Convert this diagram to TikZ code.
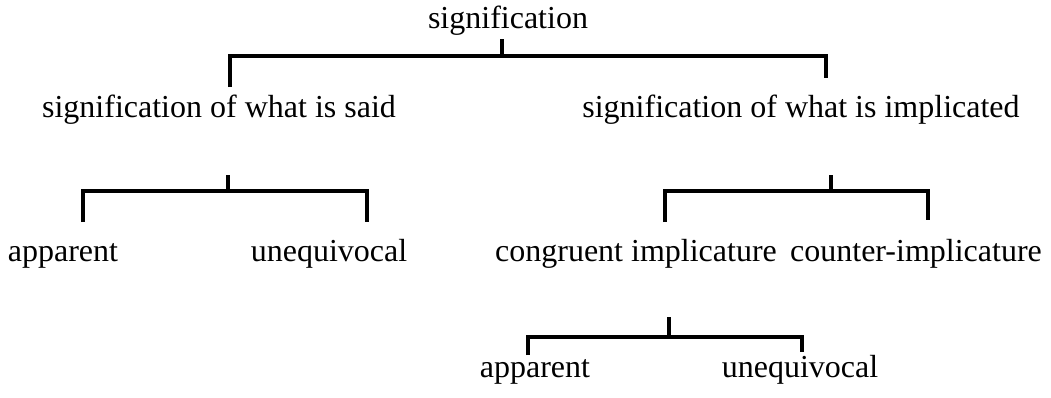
\documentclass[tikz,border=0pt]{standalone}
\usepackage{fontspec}
\setmainfont{Liberation Serif}
\usetikzlibrary{calc}
\begin{document}
\begin{tikzpicture}[x=.5pt,y=-.5pt,lbl/.style={anchor=base,inner sep=0,font=\fontsize{16}{19}\selectfont},brk/.style={line width=1.8pt}]
\useasboundingbox(0,0)rectangle(1051,397);
% labels
\node[lbl](sig)at(508,28){signification};
\node[lbl](said)at(219,117){signification of what is said};\node[lbl](impl)at(801,117){signification of what is implicated};
\node[lbl](app1)at(63,261){apparent};\node[lbl](uneq1)at(329,261){unequivocal};
\node[lbl](cong)at(636,261){congruent implicature};\node[lbl](ctr)at(916,261){counter-implicature};
\node[lbl](app2)at(535,377){apparent};\node[lbl](uneq2)at(800,377){unequivocal};
% brackets: stem top s, junction j, leg tips l and r
\coordinate(s0)at(502,39);\coordinate(j0)at(502,56);\coordinate(l0)at(230,87);\coordinate(r0)at(826,78);
\coordinate(s1)at(228,175);\coordinate(j1)at(228,191);\coordinate(l1)at(83,222);\coordinate(r1)at(367,222);
\coordinate(s2)at(831,175);\coordinate(j2)at(831,191);\coordinate(l2)at(665,222);\coordinate(r2)at(928,220);
\coordinate(s3)at(669,317);\coordinate(j3)at(669,337);\coordinate(l3)at(528,355);\coordinate(r3)at(802,352);
\foreach \i in {0,...,3}{\draw[brk](s\i)--(j\i);\draw[brk](l\i)|-(j\i)-|(r\i);}
\end{tikzpicture}
\end{document}
